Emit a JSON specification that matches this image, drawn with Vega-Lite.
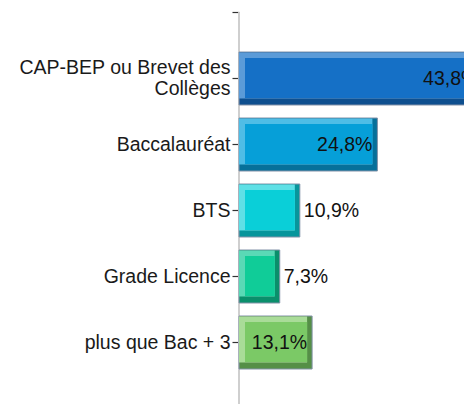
{
  "$schema": "https://vega.github.io/schema/vega-lite/v6.json",
  "autosize": "none",
  "width": 225,
  "height": 404,
  "padding": {"left": 239, "top": 0, "right": 0, "bottom": 0},
  "background": "white",
  "config": {
    "view": {"stroke": null},
    "locale": {"number": {"decimal": ",", "thousands": " ", "grouping": [3], "currency": ["", " €"]}}
  },
  "data": {
    "values": [
      {"niveau": "CAP-BEP ou Brevet des Collèges", "part": 0.438},
      {"niveau": "Baccalauréat", "part": 0.248},
      {"niveau": "BTS", "part": 0.109},
      {"niveau": "Grade Licence", "part": 0.073},
      {"niveau": "plus que Bac + 3", "part": 0.131}
    ]
  },
  "encoding": {
    "y": {
      "field": "niveau",
      "type": "nominal",
      "sort": null,
      "scale": {
        "domain": ["top", "CAP-BEP ou Brevet des Collèges", "Baccalauréat", "BTS", "Grade Licence", "plus que Bac + 3", "bot"],
        "range": [-13.9, 434.9],
        "paddingInner": 0.2,
        "paddingOuter": 0
      },
      "axis": {
        "title": null,
        "domain": false,
        "ticks": true,
        "tickColor": "#333333",
        "tickSize": 7,
        "tickWidth": 1.2,
        "labelPadding": 2,
        "labelFont": "Liberation Sans",
        "labelFontSize": 19.5,
        "labelColor": "#1a1a1a",
        "labelLineHeight": 21,
        "labelLimit": 300,
        "labelOffset": {"condition": {"test": "datum.value == 'CAP-BEP ou Brevet des Collèges'", "value": -10.5}, "value": 0},
        "labelExpr": "datum.value == 'CAP-BEP ou Brevet des Collèges' ? ['CAP-BEP ou Brevet des', 'Collèges'] : ((datum.value == 'top' || datum.value == 'bot') ? '' : datum.value)"
      }
    }
  },
  "layer": [
    {
      "mark": {"type": "rule", "color": "#cfcfcf", "strokeWidth": 1.5},
      "encoding": {
        "x": {"datum": 0, "type": "quantitative", "scale": {"domain": [0, 0.4032], "nice": false, "zero": true}, "axis": null},
        "y": {"datum": "top"},
        "y2": {"datum": "bot"}
      }
    },
    {
      "mark": {"type": "bar", "height": 53, "stroke": "#8392a8", "strokeWidth": 1},
      "encoding": {
        "x": {"field": "part", "type": "quantitative", "stack": null, "scale": {"domain": [0, 0.4032], "nice": false, "zero": true}, "axis": null},
        "x2": {"datum": 0},
        "color": {
          "field": "niveau", "type": "nominal", "legend": null,
          "scale": {"domain": ["CAP-BEP ou Brevet des Collèges", "Baccalauréat", "BTS", "Grade Licence", "plus que Bac + 3"],
                    "range": ["#0e4f8f", "#06709a", "#07959b", "#0a8f6b", "#558f47"]}
        }
      }
    },
    {
      "mark": {"type": "bar", "height": 46, "yOffset": -3, "xOffset": -5},
      "encoding": {
        "x": {"field": "part", "type": "quantitative", "stack": null},
        "x2": {"datum": 0},
        "color": {
          "field": "niveau", "type": "nominal", "legend": null,
          "scale": {"domain": ["CAP-BEP ou Brevet des Collèges", "Baccalauréat", "BTS", "Grade Licence", "plus que Bac + 3"],
                    "range": ["#5b9bd8", "#4fbde6", "#5fe0e6", "#5ad9b6", "#a9dc98"]}
        }
      }
    },
    {
      "mark": {"type": "bar", "height": 40, "yOffset": -0.5, "xOffset": -5, "x2Offset": 6},
      "encoding": {
        "x": {"field": "part", "type": "quantitative", "stack": null},
        "x2": {"datum": 0},
        "color": {
          "field": "niveau", "type": "nominal", "legend": null,
          "scale": {"domain": ["CAP-BEP ou Brevet des Collèges", "Baccalauréat", "BTS", "Grade Licence", "plus que Bac + 3"],
                    "range": ["#1570c6", "#069fd8", "#0acfd8", "#10cc98", "#7bc966"]}
        }
      }
    },
    {
      "transform": [{"filter": "datum.part > 0.12"}],
      "mark": {"type": "text", "align": "right", "baseline": "middle", "dx": -5, "font": "Liberation Sans", "fontSize": 19.5, "color": "#111111"},
      "encoding": {
        "x": {"field": "part", "type": "quantitative"},
        "text": {"field": "part", "type": "quantitative", "format": ".1%"}
      }
    },
    {
      "transform": [{"filter": "datum.part <= 0.12"}],
      "mark": {"type": "text", "align": "left", "baseline": "middle", "dx": 4, "font": "Liberation Sans", "fontSize": 19.5, "color": "#111111"},
      "encoding": {
        "x": {"field": "part", "type": "quantitative"},
        "text": {"field": "part", "type": "quantitative", "format": ".1%"}
      }
    }
  ],
  "resolve": {"scale": {"color": "independent"}}
}
